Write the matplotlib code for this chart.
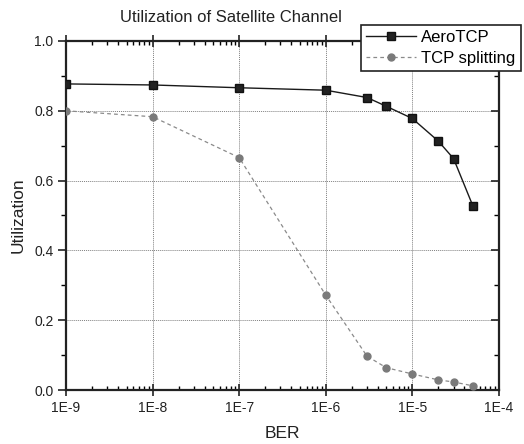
import matplotlib
matplotlib.use("Agg")
import matplotlib.pyplot as plt
from matplotlib.ticker import FixedLocator, MultipleLocator, LogLocator, NullFormatter

plt.rcParams['font.family'] = ['Liberation Sans', 'DejaVu Sans']

ber = [1e-9, 1e-8, 1e-7, 1e-6, 3e-6, 5e-6, 1e-5, 2e-5, 3e-5, 5e-5]
aerotcp = [0.877, 0.874, 0.866, 0.859, 0.838, 0.813, 0.778, 0.713, 0.663, 0.528]
tcp_split = [0.800, 0.783, 0.666, 0.272, 0.097, 0.064, 0.046, 0.029, 0.023, 0.012]
xticks = [1e-9, 1e-8, 1e-7, 1e-6, 1e-5, 1e-4]
xticklabels = ["1E-9", "1E-8", "1E-7", "1E-6", "1E-5", "1E-4"]
yticks = [0.0, 0.2, 0.4, 0.6, 0.8, 1.0]

fig = plt.figure(figsize=(5.24, 4.44), dpi=100)
ax = fig.add_axes([0.126, 0.1216, 0.826, 0.7861])

ax.plot(ber, aerotcp, color='#1a1a1a', lw=1.0, marker='s', ms=5.5,
        mfc='#222222', mec='#111111', label='AeroTCP', zorder=3)
ax.plot(ber, tcp_split, color='#8a8a8a', lw=0.9, ls=(0, (3, 2.5)), marker='o', ms=5,
        mfc='#7a7a7a', mec='#7a7a7a', label='TCP splitting', zorder=3)

ax.set_xscale('log')
ax.set_xlim(1e-9, 1e-4)
ax.set_ylim(0, 1.0)
ax.xaxis.set_major_locator(FixedLocator(xticks))
ax.set_xticklabels(xticklabels)
ax.xaxis.set_minor_locator(LogLocator(base=10, subs=range(2, 10)))
ax.xaxis.set_minor_formatter(NullFormatter())
ax.set_yticks(yticks)
ax.set_yticklabels([f"{v:.1f}" for v in yticks])
ax.yaxis.set_minor_locator(MultipleLocator(0.1))

ax.grid(True, which='major', axis='both', color='#808080', lw=0.7, ls=(0, (1, 1)))

for s in ax.spines.values():
    s.set_linewidth(1.6)
    s.set_color('#222222')

ax.tick_params(axis='both', which='major', labelsize=10, colors='#222222', width=1.2)
ax.tick_params(axis='y', which='major', left=True, right=True, direction='out', length=6, pad=3)
ax.tick_params(axis='y', which='minor', left=True, right=True, direction='out', length=3.5, width=1.0)
ax.tick_params(axis='x', which='major', bottom=True, top=True, direction='inout', length=8, pad=4)
ax.tick_params(axis='x', which='minor', bottom=True, top=True, direction='in', length=3, width=1.0)
for t in ax.yaxis.get_ticklines(minor=False)[1::2]:
    t.set_marker(0)
for t in ax.yaxis.get_ticklines(minor=True)[1::2]:
    t.set_marker(0)

ax.set_xlabel('BER', fontsize=12.5, color='#222222', labelpad=8)
ax.set_ylabel('Utilization', fontsize=12.5, color='#222222', labelpad=6)

fig.text(231/524, 1 - 17/444, 'Utilization of Satellite Channel', ha='center', va='center',
         fontsize=12, color='#222222')

leg = ax.legend(loc='upper right', bbox_to_anchor=(0.994, 0.944),
                bbox_transform=fig.transFigure, borderaxespad=0, fontsize=12,
                fancybox=False, framealpha=1, edgecolor='#222222', handlelength=3.0,
                borderpad=0.32, labelspacing=0.35, handletextpad=0.3)
leg.get_frame().set_linewidth(1.2)
leg.set_zorder(5)

fig.savefig('out.png', dpi=100)
